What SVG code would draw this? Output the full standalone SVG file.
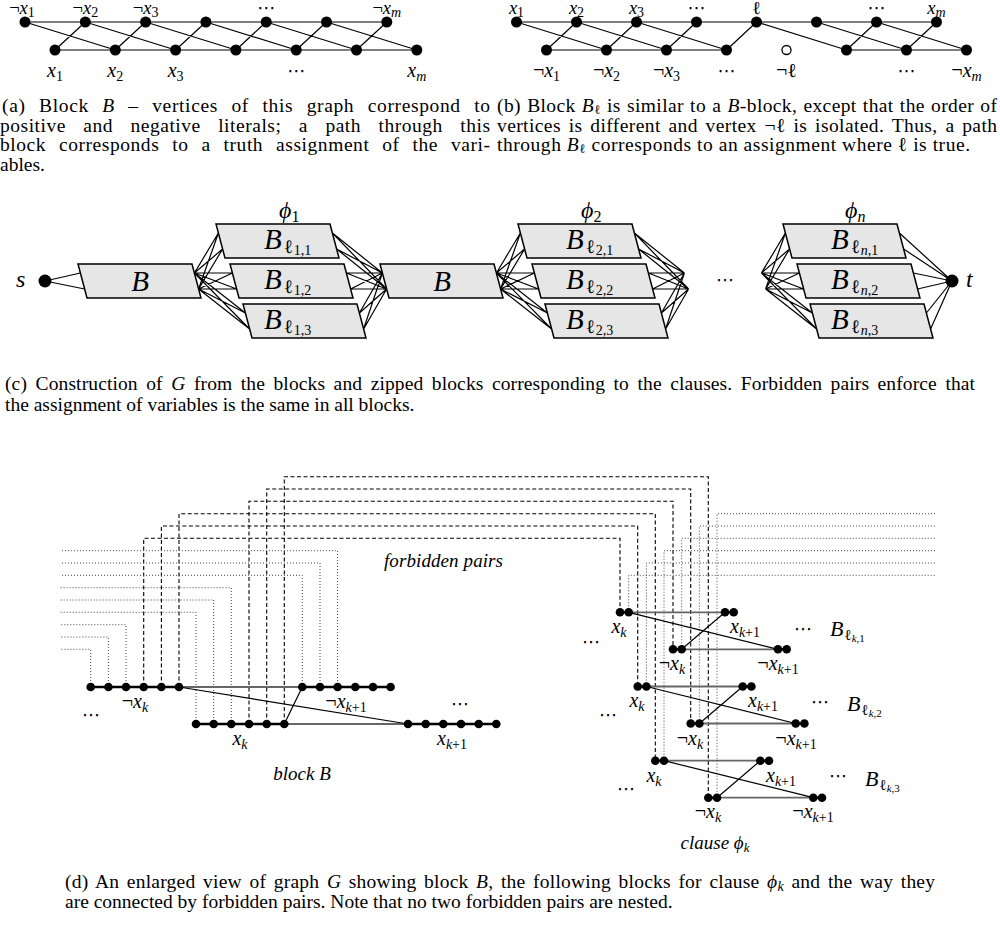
<svg xmlns="http://www.w3.org/2000/svg" width="1000" height="925" viewBox="0 0 1000 925">
<defs><style>
.n{fill:#000}
.o{fill:#fff;stroke:#000;stroke-width:1.3}
.e{stroke:#000;stroke-width:1.2;fill:none}
.bx{fill:#e6e6e6;stroke:#000;stroke-width:1.5}
.tk{stroke:#000;stroke-width:2.4;fill:none}
.gr{stroke:#666;stroke-width:1.8;fill:none}
.dt{stroke:#444;stroke-width:1;stroke-dasharray:1 2;fill:none}
.ds{stroke:#000;stroke-width:1.1;stroke-dasharray:4 2.5;fill:none}
text{font-family:"Liberation Serif","DejaVu Serif",serif;fill:#000}
.m{font-size:20px}
.mt{font-size:18.5px}
.i{font-style:italic}
.u{font-style:normal}
.sb{font-size:14px}
.dd{font-family:"DejaVu Sans",sans-serif;font-size:18px}
.cap{font-size:19.5px}
.cap2{font-size:19.5px}
.big{font-size:29px;font-style:italic}
.lab{font-size:19px;font-style:italic}
</style></defs>
<rect width="1000" height="925" fill="#fff"/>

<!-- ================= Panel (a) ================= -->
<g id="conn-a" class="e">
<path d="M25 22H386.8M55 50H416.8M25 22L115.3 50M85.3 22L175.6 50M145.6 22L235.9 50M205.9 22L296.2 50M266.2 22L356.5 50M326.5 22L416.8 50M55 50L85.3 22M115.3 50L145.6 22M175.6 50L205.9 22M235.9 50L266.2 22M296.2 50L326.5 22M356.5 50L386.8 22"/>
</g>
<g id="a-t1"><circle class="n" cx="25" cy="22" r="5.5"/></g>
<g id="a-t2"><circle class="n" cx="85.3" cy="22" r="5.5"/></g>
<g id="a-t3"><circle class="n" cx="145.6" cy="22" r="5.5"/></g>
<g id="a-t4"><circle class="n" cx="205.9" cy="22" r="5.5"/></g>
<g id="a-t5"><circle class="n" cx="266.2" cy="22" r="5.5"/></g>
<g id="a-t6"><circle class="n" cx="326.5" cy="22" r="5.5"/></g>
<g id="a-t7"><circle class="n" cx="386.8" cy="22" r="5.5"/></g>
<g id="a-b1"><circle class="n" cx="55" cy="50" r="5.5"/></g>
<g id="a-b2"><circle class="n" cx="115.3" cy="50" r="5.5"/></g>
<g id="a-b3"><circle class="n" cx="175.6" cy="50" r="5.5"/></g>
<g id="a-b4"><circle class="n" cx="235.9" cy="50" r="5.5"/></g>
<g id="a-b5"><circle class="n" cx="296.2" cy="50" r="5.5"/></g>
<g id="a-b6"><circle class="n" cx="356.5" cy="50" r="5.5"/></g>
<g id="a-b7"><circle class="n" cx="416.8" cy="50" r="5.5"/></g>
<g id="labels-a">
<text class="mt" x="22" y="14" text-anchor="middle">¬<tspan class="i">x</tspan><tspan class="sb" dy="3">1</tspan></text>
<text class="mt" x="85.3" y="14" text-anchor="middle">¬<tspan class="i">x</tspan><tspan class="sb" dy="3">2</tspan></text>
<text class="mt" x="145.6" y="14" text-anchor="middle">¬<tspan class="i">x</tspan><tspan class="sb" dy="3">3</tspan></text>
<text class="dd" x="266.2" y="14" text-anchor="middle">⋯</text>
<text class="mt" x="386.8" y="14" text-anchor="middle">¬<tspan class="i">x</tspan><tspan class="sb i" dy="3">m</tspan></text>
<text class="m" x="55" y="77" text-anchor="middle"><tspan class="i">x</tspan><tspan class="sb" dy="4">1</tspan></text>
<text class="m" x="115.3" y="77" text-anchor="middle"><tspan class="i">x</tspan><tspan class="sb" dy="4">2</tspan></text>
<text class="m" x="175.6" y="77" text-anchor="middle"><tspan class="i">x</tspan><tspan class="sb" dy="4">3</tspan></text>
<text class="dd" x="296.2" y="77" text-anchor="middle">⋯</text>
<text class="m" x="416.8" y="77" text-anchor="middle"><tspan class="i">x</tspan><tspan class="sb i" dy="4">m</tspan></text>
</g>
<g id="caption-a">
<text class="cap" x="2" y="112" textLength="488" lengthAdjust="spacing" word-spacing="8">(a) Block <tspan class="i">B</tspan> – vertices of this graph correspond to</text>
<text class="cap" x="0" y="131.5" textLength="490" lengthAdjust="spacing" word-spacing="12">positive and negative literals; a path through this</text>
<text class="cap" x="0" y="151" textLength="490" lengthAdjust="spacing" word-spacing="7.5">block corresponds to a truth assignment of the vari-</text>
<text class="cap" x="0" y="170.5">ables.</text>
</g>

<!-- ================= Panel (b) ================= -->
<g id="conn-b" class="e">
<path d="M516.5 22H936.5M546.5 50H726.5M846.5 50H966.5M516.5 22L606.5 50M576.5 22L666.5 50M636.5 22L726.5 50M756.5 22L846.5 50M816.5 22L906.5 50M876.5 22L966.5 50M546.5 50L576.5 22M606.5 50L636.5 22M666.5 50L696.5 22M726.5 50L756.5 22M846.5 50L876.5 22M906.5 50L936.5 22"/>
</g>
<g id="b-t1"><circle class="n" cx="516.5" cy="22" r="5.5"/></g>
<g id="b-t2"><circle class="n" cx="576.5" cy="22" r="5.5"/></g>
<g id="b-t3"><circle class="n" cx="636.5" cy="22" r="5.5"/></g>
<g id="b-t4"><circle class="n" cx="696.5" cy="22" r="5.5"/></g>
<g id="b-t5"><circle class="n" cx="756.5" cy="22" r="5.5"/></g>
<g id="b-t6"><circle class="n" cx="816.5" cy="22" r="5.5"/></g>
<g id="b-t7"><circle class="n" cx="876.5" cy="22" r="5.5"/></g>
<g id="b-t8"><circle class="n" cx="936.5" cy="22" r="5.5"/></g>
<g id="b-b1"><circle class="n" cx="546.5" cy="50" r="5.5"/></g>
<g id="b-b2"><circle class="n" cx="606.5" cy="50" r="5.5"/></g>
<g id="b-b3"><circle class="n" cx="666.5" cy="50" r="5.5"/></g>
<g id="b-b4"><circle class="n" cx="726.5" cy="50" r="5.5"/></g>
<g id="b-b5"><circle class="o" cx="786.5" cy="50" r="4.5"/></g>
<g id="b-b6"><circle class="n" cx="846.5" cy="50" r="5.5"/></g>
<g id="b-b7"><circle class="n" cx="906.5" cy="50" r="5.5"/></g>
<g id="b-b8"><circle class="n" cx="966.5" cy="50" r="5.5"/></g>
<g id="labels-b">
<text class="mt" x="516.5" y="14" text-anchor="middle"><tspan class="i">x</tspan><tspan class="sb" dy="3">1</tspan></text>
<text class="mt" x="576.5" y="14" text-anchor="middle"><tspan class="i">x</tspan><tspan class="sb" dy="3">2</tspan></text>
<text class="mt" x="636.5" y="14" text-anchor="middle"><tspan class="i">x</tspan><tspan class="sb" dy="3">3</tspan></text>
<text class="dd" x="696.5" y="14" text-anchor="middle">⋯</text>
<text class="mt" x="756.5" y="14" text-anchor="middle">ℓ</text>
<text class="dd" x="876.5" y="14" text-anchor="middle">⋯</text>
<text class="mt" x="936.5" y="14" text-anchor="middle"><tspan class="i">x</tspan><tspan class="sb i" dy="3">m</tspan></text>
<text class="m" x="546.5" y="77" text-anchor="middle">¬<tspan class="i">x</tspan><tspan class="sb" dy="4">1</tspan></text>
<text class="m" x="606.5" y="77" text-anchor="middle">¬<tspan class="i">x</tspan><tspan class="sb" dy="4">2</tspan></text>
<text class="m" x="666.5" y="77" text-anchor="middle">¬<tspan class="i">x</tspan><tspan class="sb" dy="4">3</tspan></text>
<text class="dd" x="726.5" y="77" text-anchor="middle">⋯</text>
<text class="m" x="786.5" y="77" text-anchor="middle">¬ℓ</text>
<text class="dd" x="906.5" y="77" text-anchor="middle">⋯</text>
<text class="m" x="966.5" y="77" text-anchor="middle">¬<tspan class="i">x</tspan><tspan class="sb i" dy="4">m</tspan></text>
</g>
<g id="caption-b">
<text class="cap" x="497" y="112" textLength="500" lengthAdjust="spacing" word-spacing="1">(b) Block <tspan class="i">B</tspan><tspan font-size="13" dy="2">ℓ</tspan><tspan dy="-2"> is similar to a </tspan><tspan class="i">B</tspan>-block, except that the order of</text>
<text class="cap" x="497" y="131.5" textLength="500" lengthAdjust="spacing" word-spacing="2.5">vertices is different and vertex ¬ℓ is isolated.  Thus, a path</text>
<text class="cap" x="497" y="151" textLength="473" lengthAdjust="spacing">through <tspan class="i">B</tspan><tspan font-size="13" dy="2">ℓ</tspan><tspan dy="-2"> corresponds to an assignment where ℓ is true.</tspan></text>
</g>

<!-- ================= Panel (c) ================= -->
<g id="conn-c" class="e">
<path d="M45 281L80.4 273M45 281L84.6 289
M194.4 273L218.4 233M194.4 273L222.6 249M198.6 289L218.4 233M198.6 289L222.6 249
M194.4 273L232.4 273M194.4 273L236.6 289M198.6 289L232.4 273M198.6 289L236.6 289
M194.4 273L245.4 313M194.4 273L249.6 329M198.6 289L245.4 313M198.6 289L249.6 329
M332.4 233L382.4 273M332.4 233L386.6 289M336.6 249L382.4 273M336.6 249L386.6 289
M346.4 273L382.4 273M346.4 273L386.6 289M350.6 289L382.4 273M350.6 289L386.6 289
M359.4 313L382.4 273M359.4 313L386.6 289M363.6 329L382.4 273M363.6 329L386.6 289
M496.4 273L520.4 233M496.4 273L524.6 249M500.6 289L520.4 233M500.6 289L524.6 249
M496.4 273L534.4 273M496.4 273L538.6 289M500.6 289L534.4 273M500.6 289L538.6 289
M496.4 273L547.4 313M496.4 273L551.6 329M500.6 289L547.4 313M500.6 289L551.6 329
M634.4 233L684.4 273M634.4 233L688.6 289M638.6 249L684.4 273M638.6 249L688.6 289
M648.4 273L684.4 273M648.4 273L688.6 289M652.6 289L684.4 273M652.6 289L688.6 289
M661.4 313L684.4 273M661.4 313L688.6 289M665.6 329L684.4 273M665.6 329L688.6 289
M761.4 273L785.4 233M761.4 273L789.6 249M765.6 289L785.4 233M765.6 289L789.6 249
M761.4 273L799.4 273M761.4 273L803.6 289M765.6 289L799.4 273M765.6 289L803.6 289
M761.4 273L812.4 313M761.4 273L816.6 329M765.6 289L812.4 313M765.6 289L816.6 329
M899.4 233L952 281M903.6 249L952 281M913.4 273L952 281M917.6 289L952 281M926.4 313L952 281M930.6 329L952 281"/>
</g>
<g id="c-s"><circle class="n" cx="45" cy="281" r="6.5"/><text class="i" font-size="24" x="16" y="287">s</text></g>
<g id="c-t"><circle class="n" cx="952" cy="281" r="6.5"/><text class="i" font-size="24" x="966" y="287">t</text></g>
<g id="c-B1"><polygon class="bx" points="78,264 192,264 201,298 87,298"/><text class="big" x="140" y="291" text-anchor="middle">B</text></g>
<g id="c-B2"><polygon class="bx" points="380,264 494,264 503,298 389,298"/><text class="big" x="442" y="291" text-anchor="middle">B</text></g>
<g id="c-Bl11"><polygon class="bx" points="216,224 330,224 339,258 225,258"/><text x="264" y="249"><tspan class="big">B</tspan><tspan font-size="19" dx="2" dy="4">ℓ</tspan><tspan font-size="14" dx="1" dy="2">1,1</tspan></text></g>
<g id="c-Bl12"><polygon class="bx" points="230,264 344,264 353,298 239,298"/><text x="264" y="289"><tspan class="big">B</tspan><tspan font-size="19" dx="2" dy="4">ℓ</tspan><tspan font-size="14" dx="1" dy="2">1,2</tspan></text></g>
<g id="c-Bl13"><polygon class="bx" points="243,304 357,304 366,338 252,338"/><text x="264" y="329"><tspan class="big">B</tspan><tspan font-size="19" dx="2" dy="4">ℓ</tspan><tspan font-size="14" dx="1" dy="2">1,3</tspan></text></g>
<g id="c-Bl21"><polygon class="bx" points="518,224 632,224 641,258 527,258"/><text x="566" y="249"><tspan class="big">B</tspan><tspan font-size="19" dx="2" dy="4">ℓ</tspan><tspan font-size="14" dx="1" dy="2">2,1</tspan></text></g>
<g id="c-Bl22"><polygon class="bx" points="532,264 646,264 655,298 541,298"/><text x="566" y="289"><tspan class="big">B</tspan><tspan font-size="19" dx="2" dy="4">ℓ</tspan><tspan font-size="14" dx="1" dy="2">2,2</tspan></text></g>
<g id="c-Bl23"><polygon class="bx" points="545,304 659,304 668,338 554,338"/><text x="566" y="329"><tspan class="big">B</tspan><tspan font-size="19" dx="2" dy="4">ℓ</tspan><tspan font-size="14" dx="1" dy="2">2,3</tspan></text></g>
<g id="c-Bln1"><polygon class="bx" points="783,224 897,224 906,258 792,258"/><text x="831" y="249"><tspan class="big">B</tspan><tspan font-size="19" dx="2" dy="4">ℓ</tspan><tspan font-size="14" dx="1" dy="2"><tspan class="i">n</tspan>,1</tspan></text></g>
<g id="c-Bln2"><polygon class="bx" points="797,264 911,264 920,298 806,298"/><text x="831" y="289"><tspan class="big">B</tspan><tspan font-size="19" dx="2" dy="4">ℓ</tspan><tspan font-size="14" dx="1" dy="2"><tspan class="i">n</tspan>,2</tspan></text></g>
<g id="c-Bln3"><polygon class="bx" points="810,304 924,304 933,338 819,338"/><text x="831" y="329"><tspan class="big">B</tspan><tspan font-size="19" dx="2" dy="4">ℓ</tspan><tspan font-size="14" dx="1" dy="2"><tspan class="i">n</tspan>,3</tspan></text></g>
<g id="labels-c">
<text class="i" font-size="24" x="279" y="218">ϕ<tspan class="u" font-size="16" dy="4">1</tspan></text>
<text class="i" font-size="24" x="581" y="218">ϕ<tspan class="u" font-size="16" dy="4">2</tspan></text>
<text class="i" font-size="24" x="845" y="218">ϕ<tspan font-size="16" dy="4">n</tspan></text>
<text class="dd" font-size="20" x="725" y="286" text-anchor="middle">⋯</text>
</g>
<g id="caption-c">
<text class="cap2" x="5" y="390" textLength="970" lengthAdjust="spacing" word-spacing="3.5">(c) Construction of <tspan class="i">G</tspan> from the blocks and zipped blocks corresponding to the clauses. Forbidden pairs enforce that</text>
<text class="cap2" x="5" y="410.5">the assignment of variables is the same in all blocks.</text>
</g>

<!-- ================= Panel (d) ================= -->
<g id="conn-d">
<path class="ds" d="M284.3 724V476.7H708.3V797.7M266.7 724V489H690.7V723.5M249 724V501.3H673V649.3M179 687V513.7H655.3V760.7M161.4 687V526H637.7V686.5M143.7 687V538.3H620V612.3"/>
<path class="dt" d="M337.6 687V550.7H60M320 687V563H60M302.3 687V575.3H60M231.3 724V587.7H60M213.7 724V600H60M196 724V612.3H60M126 687V624.7H60M108.4 687V637H60M90.7 687V649.3H60"/>
<path class="dt" d="M717 797.7V513.7H936M699.4 723.5V526H936M681.7 649.3V538.3H936M664 760.7V550.7H936M646.4 686.5V563H936M628.7 612.3V575.3H936"/>
<path class="tk" d="M90.7 687H179M302.3 687H390.6M196 724H284.3M408 724H496.3M620 612.3h8.7M673 649.3h8.7M725 612.3h8.7M778 649.3h8.7M637.7 686.5h8.7M690.7 723.5h8.7M742.7 686.5h8.7M795.7 723.5h8.7M655.3 760.7h8.7M708.3 797.7h8.7M760.3 760.7h8.7M813.3 797.7h8.7"/>
<path class="gr" d="M179 687H302.3M284.3 724H408M628.7 612.3H725M681.7 649.3H778M646.4 686.5H742.7M699.4 723.5H795.7M664 760.7H760.3M717 797.7H813.3"/>
<path class="e" d="M179 687L408 724M284.3 724L302.3 687M628.7 612.3L778 649.3M681.7 649.3L725 612.3M646.4 686.5L795.7 723.5M699.4 723.5L742.7 686.5M664 760.7L813.3 797.7M717 797.7L760.3 760.7"/>
</g>
<g id="d-nt1"><circle class="n" cx="90.7" cy="687" r="4.3"/></g>
<g id="d-nt2"><circle class="n" cx="108.4" cy="687" r="4.3"/></g>
<g id="d-nt3"><circle class="n" cx="126" cy="687" r="4.3"/></g>
<g id="d-nt4"><circle class="n" cx="143.7" cy="687" r="4.3"/></g>
<g id="d-nt5"><circle class="n" cx="161.4" cy="687" r="4.3"/></g>
<g id="d-nt6"><circle class="n" cx="179" cy="687" r="4.3"/></g>
<g id="d-nt7"><circle class="n" cx="302.3" cy="687" r="4.3"/></g>
<g id="d-nt8"><circle class="n" cx="320" cy="687" r="4.3"/></g>
<g id="d-nt9"><circle class="n" cx="337.6" cy="687" r="4.3"/></g>
<g id="d-nt10"><circle class="n" cx="355.3" cy="687" r="4.3"/></g>
<g id="d-nt11"><circle class="n" cx="373" cy="687" r="4.3"/></g>
<g id="d-nt12"><circle class="n" cx="390.6" cy="687" r="4.3"/></g>
<g id="d-x1"><circle class="n" cx="196" cy="724" r="4.3"/></g>
<g id="d-x2"><circle class="n" cx="213.7" cy="724" r="4.3"/></g>
<g id="d-x3"><circle class="n" cx="231.3" cy="724" r="4.3"/></g>
<g id="d-x4"><circle class="n" cx="249" cy="724" r="4.3"/></g>
<g id="d-x5"><circle class="n" cx="266.7" cy="724" r="4.3"/></g>
<g id="d-x6"><circle class="n" cx="284.3" cy="724" r="4.3"/></g>
<g id="d-x7"><circle class="n" cx="408" cy="724" r="4.3"/></g>
<g id="d-x8"><circle class="n" cx="425.7" cy="724" r="4.3"/></g>
<g id="d-x9"><circle class="n" cx="443.3" cy="724" r="4.3"/></g>
<g id="d-x10"><circle class="n" cx="461" cy="724" r="4.3"/></g>
<g id="d-x11"><circle class="n" cx="478.7" cy="724" r="4.3"/></g>
<g id="d-x12"><circle class="n" cx="496.3" cy="724" r="4.3"/></g>
<g id="c1-tl"><circle class="n" cx="620" cy="612.3" r="4.3"/><circle class="n" cx="628.7" cy="612.3" r="4.3"/></g>
<g id="c1-tr"><circle class="n" cx="725" cy="612.3" r="4.3"/><circle class="n" cx="733.7" cy="612.3" r="4.3"/></g>
<g id="c1-bl"><circle class="n" cx="673" cy="649.3" r="4.3"/><circle class="n" cx="681.7" cy="649.3" r="4.3"/></g>
<g id="c1-br"><circle class="n" cx="778" cy="649.3" r="4.3"/><circle class="n" cx="786.7" cy="649.3" r="4.3"/></g>
<g id="c2-tl"><circle class="n" cx="637.7" cy="686.5" r="4.3"/><circle class="n" cx="646.4" cy="686.5" r="4.3"/></g>
<g id="c2-tr"><circle class="n" cx="742.7" cy="686.5" r="4.3"/><circle class="n" cx="751.4" cy="686.5" r="4.3"/></g>
<g id="c2-bl"><circle class="n" cx="690.7" cy="723.5" r="4.3"/><circle class="n" cx="699.4" cy="723.5" r="4.3"/></g>
<g id="c2-br"><circle class="n" cx="795.7" cy="723.5" r="4.3"/><circle class="n" cx="804.4" cy="723.5" r="4.3"/></g>
<g id="c3-tl"><circle class="n" cx="655.3" cy="760.7" r="4.3"/><circle class="n" cx="664" cy="760.7" r="4.3"/></g>
<g id="c3-tr"><circle class="n" cx="760.3" cy="760.7" r="4.3"/><circle class="n" cx="769" cy="760.7" r="4.3"/></g>
<g id="c3-bl"><circle class="n" cx="708.3" cy="797.7" r="4.3"/><circle class="n" cx="717" cy="797.7" r="4.3"/></g>
<g id="c3-br"><circle class="n" cx="813.3" cy="797.7" r="4.3"/><circle class="n" cx="822" cy="797.7" r="4.3"/></g>
<g id="labels-d">
<text class="lab" x="384" y="567" textLength="119">forbidden pairs</text>
<text class="m" x="135" y="708" text-anchor="middle">¬<tspan class="i">x</tspan><tspan class="sb i" dy="4">k</tspan></text>
<text class="m" x="346" y="708" text-anchor="middle">¬<tspan class="i">x</tspan><tspan class="sb" dy="4"><tspan class="i">k</tspan>+1</tspan></text>
<text class="m" x="240" y="745" text-anchor="middle"><tspan class="i">x</tspan><tspan class="sb i" dy="4">k</tspan></text>
<text class="m" x="452" y="745" text-anchor="middle"><tspan class="i">x</tspan><tspan class="sb" dy="4"><tspan class="i">k</tspan>+1</tspan></text>
<text class="dd" x="91" y="721" text-anchor="middle">⋯</text>
<text class="dd" x="460" y="710" text-anchor="middle">⋯</text>
<text class="lab" x="302" y="780" text-anchor="middle">block B</text>

<text class="m" x="619" y="633" text-anchor="middle"><tspan class="i">x</tspan><tspan class="sb i" dy="4">k</tspan></text>
<text class="m" x="745" y="633" text-anchor="middle"><tspan class="i">x</tspan><tspan class="sb" dy="4"><tspan class="i">k</tspan>+1</tspan></text>
<text class="dd" x="803" y="635" text-anchor="middle">⋯</text>
<text x="830" y="636"><tspan class="i" font-size="22">B</tspan><tspan font-size="15" dx="1" dy="4">ℓ</tspan><tspan font-size="11" dy="2"><tspan class="i">k</tspan>,1</tspan></text>
<text class="dd" x="591" y="648" text-anchor="middle">⋯</text>
<text class="m" x="672" y="670" text-anchor="middle">¬<tspan class="i">x</tspan><tspan class="sb i" dy="4">k</tspan></text>
<text class="m" x="778" y="670" text-anchor="middle">¬<tspan class="i">x</tspan><tspan class="sb" dy="4"><tspan class="i">k</tspan>+1</tspan></text>

<text class="m" x="637" y="707" text-anchor="middle"><tspan class="i">x</tspan><tspan class="sb i" dy="4">k</tspan></text>
<text class="m" x="763" y="707" text-anchor="middle"><tspan class="i">x</tspan><tspan class="sb" dy="4"><tspan class="i">k</tspan>+1</tspan></text>
<text class="dd" x="820" y="708" text-anchor="middle">⋯</text>
<text x="847" y="711"><tspan class="i" font-size="22">B</tspan><tspan font-size="15" dx="1" dy="4">ℓ</tspan><tspan font-size="11" dy="2"><tspan class="i">k</tspan>,2</tspan></text>
<text class="dd" x="608" y="721" text-anchor="middle">⋯</text>
<text class="m" x="690" y="745" text-anchor="middle">¬<tspan class="i">x</tspan><tspan class="sb i" dy="4">k</tspan></text>
<text class="m" x="796" y="745" text-anchor="middle">¬<tspan class="i">x</tspan><tspan class="sb" dy="4"><tspan class="i">k</tspan>+1</tspan></text>

<text class="m" x="654" y="782" text-anchor="middle"><tspan class="i">x</tspan><tspan class="sb i" dy="4">k</tspan></text>
<text class="m" x="781" y="782" text-anchor="middle"><tspan class="i">x</tspan><tspan class="sb" dy="4"><tspan class="i">k</tspan>+1</tspan></text>
<text class="dd" x="838" y="782" text-anchor="middle">⋯</text>
<text x="865" y="786"><tspan class="i" font-size="22">B</tspan><tspan font-size="15" dx="1" dy="4">ℓ</tspan><tspan font-size="11" dy="2"><tspan class="i">k</tspan>,3</tspan></text>
<text class="dd" x="626" y="795" text-anchor="middle">⋯</text>
<text class="m" x="708" y="818" text-anchor="middle">¬<tspan class="i">x</tspan><tspan class="sb i" dy="4">k</tspan></text>
<text class="m" x="813" y="818" text-anchor="middle">¬<tspan class="i">x</tspan><tspan class="sb" dy="4"><tspan class="i">k</tspan>+1</tspan></text>
<text class="lab" x="715" y="849" text-anchor="middle">clause ϕ<tspan font-size="13" dy="3">k</tspan></text>
</g>
<g id="caption-d">
<text class="cap2" x="65" y="888" textLength="870" lengthAdjust="spacing" word-spacing="2.5" font-size="20">(d) An enlarged view of graph <tspan class="i">G</tspan> showing block <tspan class="i">B</tspan>, the following blocks for clause <tspan class="i">ϕ</tspan><tspan class="i" font-size="14" dy="3">k</tspan><tspan dy="-3"> and the way they</tspan></text>
<text class="cap2" x="65" y="908" font-size="20">are connected by forbidden pairs. Note that no two forbidden pairs are nested.</text>
</g>
</svg>
